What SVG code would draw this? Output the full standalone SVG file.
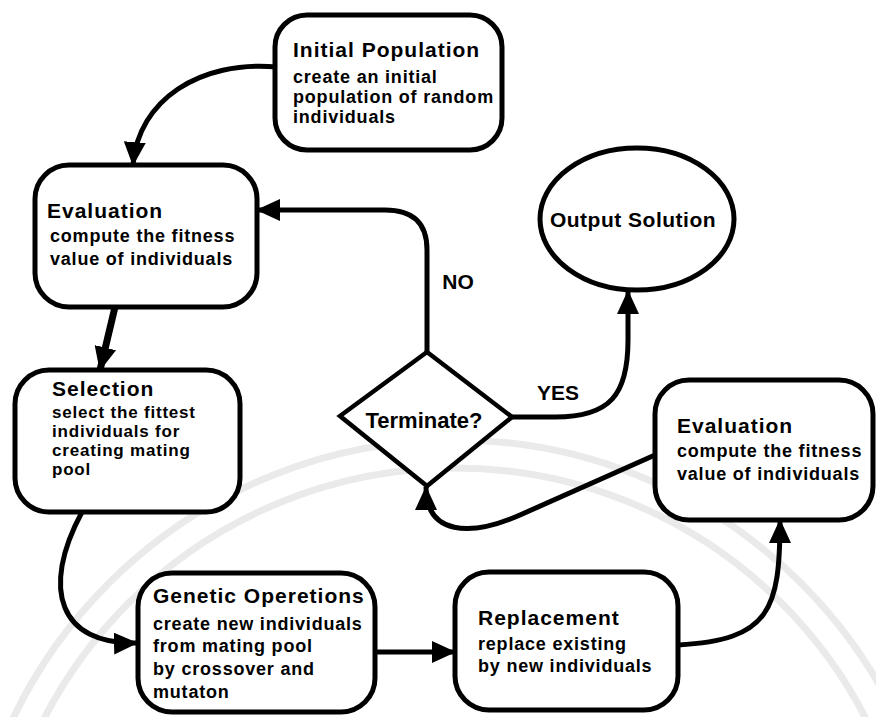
<svg xmlns="http://www.w3.org/2000/svg" width="876" height="717" viewBox="0 0 876 717">
<style>
.box{fill:#fff;stroke:#000;stroke-width:5}
.dia{fill:#fff;stroke:#000;stroke-width:4.5}
.con{fill:none;stroke:#000;stroke-width:5}
.wm{fill:none;stroke:#eaeaea;stroke-width:7}
.t{font-family:"Liberation Sans",Arial,sans-serif;font-weight:bold;font-size:21px;letter-spacing:1px;fill:#000}
.s{font-family:"Liberation Sans",Arial,sans-serif;font-weight:bold;font-size:18px;letter-spacing:0.8px;fill:#000}
.l{font-family:"Liberation Sans",Arial,sans-serif;font-weight:bold;font-size:21px;fill:#000;text-anchor:middle}
</style>
<defs>
<marker id="ah" viewBox="0 0 24 22" refX="23" refY="11" markerWidth="24" markerHeight="22" orient="auto" markerUnits="userSpaceOnUse">
<path d="M0,0 L24,11 L0,22 z" fill="#000"/>
</marker>
</defs>
<rect width="876" height="717" fill="#fff"/>
<g id="watermark">
<circle class="wm" cx="455" cy="930" r="490"/>
<circle class="wm" cx="455" cy="930" r="462"/>
</g>
<g id="connectors">
<path class="con" d="M277,67 C200,60 138,100 133,165" marker-end="url(#ah)"/>
<path class="con" style="stroke-width:7" d="M115,307 L100,370" marker-end="url(#ah)"/>
<path class="con" d="M82,512 C40,590 60,645 137,643" marker-end="url(#ah)"/>
<path class="con" d="M375,652 L455,652" marker-end="url(#ah)"/>
<path class="con" d="M678,645 C770,640 780,610 780,520" marker-end="url(#ah)"/>
<path class="con" d="M655,455 L520,515 C470,537 426,535 426,487" marker-end="url(#ah)"/>
<path class="con" d="M427,352 L427,250 C427,222 412,210 385,210 L257,210" marker-end="url(#ah)"/>
<path class="con" d="M512,417 L555,417 C610,417 628,395 628,340 L628,291" marker-end="url(#ah)"/>
<text class="l" x="458" y="289">NO</text>
<text class="l" x="558" y="400">YES</text>
</g>
<g id="initial">
<rect class="box" x="275" y="15" width="227" height="135" rx="32"/>
<text class="t" x="293" y="57">Initial Population</text>
<text class="s" x="293" y="83">create an initial</text>
<text class="s" x="293" y="103">population of random</text>
<text class="s" x="293" y="123">individuals</text>
</g>
<g id="eval1">
<rect class="box" x="35" y="165" width="222" height="142" rx="34"/>
<text class="t" x="47" y="218">Evaluation</text>
<text class="s" x="50" y="242">compute the fitness</text>
<text class="s" x="50" y="265">value of individuals</text>
</g>
<g id="selection">
<rect class="box" x="15" y="370" width="225" height="142" rx="34"/>
<text class="t" x="52" y="396">Selection</text>
<text class="s" x="52" y="418" style="font-size:17px">select the fittest</text>
<text class="s" x="52" y="437" style="font-size:17px">individuals for</text>
<text class="s" x="52" y="456" style="font-size:17px">creating mating</text>
<text class="s" x="52" y="475" style="font-size:17px">pool</text>
</g>
<g id="genetic">
<rect class="box" x="138" y="573" width="237" height="139" rx="34"/>
<text class="t" x="153" y="603">Genetic Operetions</text>
<text class="s" x="153" y="630">create new individuals</text>
<text class="s" x="153" y="652">from mating pool</text>
<text class="s" x="153" y="675">by crossover and</text>
<text class="s" x="153" y="698">mutaton</text>
</g>
<g id="replacement">
<rect class="box" x="455" y="572" width="223" height="138" rx="34"/>
<text class="t" x="478" y="625">Replacement</text>
<text class="s" x="478" y="650">replace existing</text>
<text class="s" x="478" y="672">by new individuals</text>
</g>
<g id="eval2">
<rect class="box" x="655" y="380" width="218" height="140" rx="34"/>
<text class="t" x="677" y="433">Evaluation</text>
<text class="s" x="677" y="457">compute the fitness</text>
<text class="s" x="677" y="480">value of individuals</text>
</g>
<g id="terminate">
<polygon class="dia" points="427,352 512,417 427,486 340,416"/>
<text class="l" x="424" y="428" style="font-size:22px">Terminate?</text>
</g>
<g id="output">
<ellipse class="box" cx="637" cy="219" rx="97" ry="71"/>
<text class="l" x="633" y="227" style="letter-spacing:0.5px">Output Solution</text>
</g>
</svg>
